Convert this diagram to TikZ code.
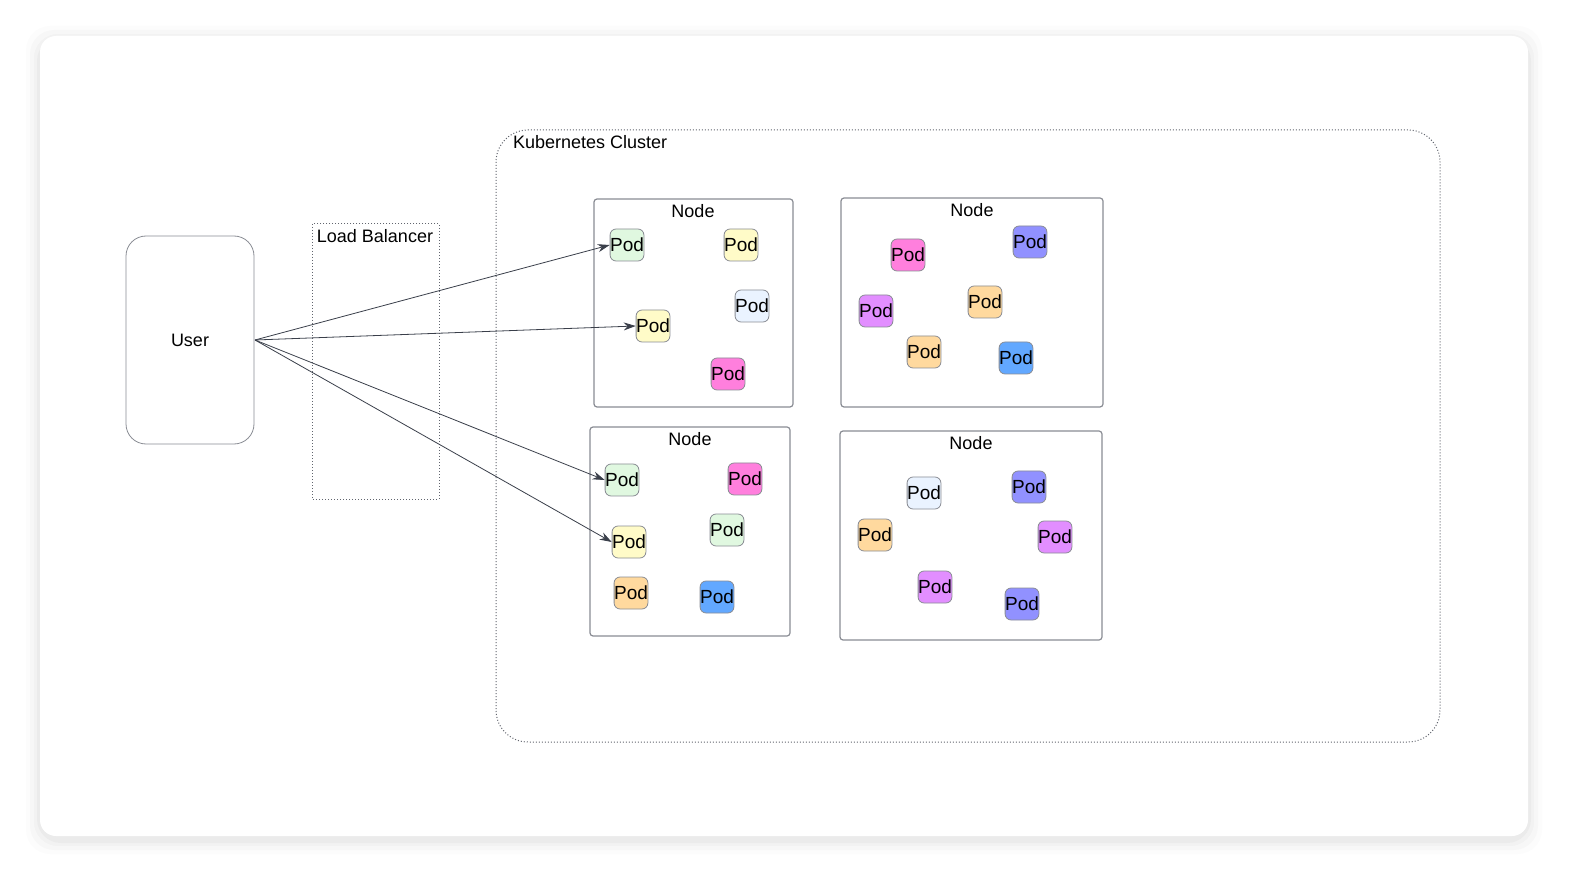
\documentclass[tikz,border=0pt]{standalone}
\usepackage{fontspec}
\setmainfont{Liberation Sans}
\usetikzlibrary{arrows.meta}
\definecolor{podgreen}{HTML}{E0F8E0}
\definecolor{podyellow}{HTML}{FFFBC8}
\definecolor{podice}{HTML}{EAF3FF}
\definecolor{podpink}{HTML}{FF7FDD}
\definecolor{podpurple}{HTML}{9191FF}
\definecolor{podviolet}{HTML}{E28EFF}
\definecolor{podorange}{HTML}{FFD99E}
\definecolor{podblue}{HTML}{62A8FF}
\definecolor{edge}{HTML}{8A8D94}
\definecolor{wire}{HTML}{3A3F4A}
\tikzset{
  pod/.style={draw=edge,rounded corners=3pt,minimum size=16pt,inner sep=0pt,font=\fontsize{9.5}{10}\selectfont},
  host/.style={draw=edge,rounded corners=1.5pt,line width=.6pt},
  zone/.style={draw=wire!80,densely dotted,line width=.5pt},
  link/.style={-{Stealth[length=6pt,width=4pt]},wire,line width=.4pt}
}
\begin{document}
\begin{tikzpicture}[x=0.5pt,y=-0.5pt,font=\fontsize{9}{10}\selectfont]
	\useasboundingbox (0,0) rectangle (1592,893);
	% card with soft shadow
	\foreach \s/\o in {14/.02,10/.03,6/.04,3/.05}{
		\fill[black!60,opacity=\o,rounded corners=12pt] (40-\s,36-\s+4) rectangle (1528+\s,836+\s+4);
	}
	\fill[white,rounded corners=8pt] (40,36) rectangle (1528,836);
	% cluster and balancer
	\draw[zone,rounded corners=16pt] (496,130) rectangle (1440,742);
	\node[anchor=west] (cluster) at (506,142) {Kubernetes Cluster};
	\draw[zone] (312,224) rectangle (439,499);
	\node (lb) at (375,236) {Load Balancer};
	\node[draw=edge,rounded corners=10pt,minimum width=64pt,minimum height=104pt] (user) at (190,340) {User};
	% hosts
	\draw[host] (594,199) rectangle (793,407); \node (n1) at (693,211) {Node};
	\draw[host] (841,198) rectangle (1103,407); \node (n2) at (972,210) {Node};
	\draw[host] (590,427) rectangle (790,636); \node (n3) at (690,439) {Node};
	\draw[host] (840,431) rectangle (1102,640); \node (n4) at (971,443) {Node};
	% pods
	\foreach \n/\x/\y/\c in {a1/627/245/podgreen,a2/741/245/podyellow,a3/653/326/podyellow,a4/752/306/podice,a5/728/374/podpink,
		b1/908/255/podpink,b2/1030/242/podpurple,b3/876/311/podviolet,b4/985/302/podorange,b5/924/352/podorange,b6/1016/358/podblue,
		c1/622/480/podgreen,c2/745/479/podpink,c3/629/542/podyellow,c4/727/530/podgreen,c5/631/593/podorange,c6/717/597/podblue,
		d1/924/493/podice,d2/1029/487/podpurple,d3/875/535/podorange,d4/1055/537/podviolet,d5/935/587/podviolet,d6/1022/604/podpurple}{
		\node[pod,fill=\c] (\n) at (\x,\y) {Pod};
	}
	% traffic
	\coordinate (out) at (255,340);
	\draw[link] (out) -- (a1.west);
	\draw[link] (out) -- (a3.west);
	\draw[link] (out) -- (c1.west);
	\draw[link] (out) -- (c3.west);
\end{tikzpicture}
\end{document}
